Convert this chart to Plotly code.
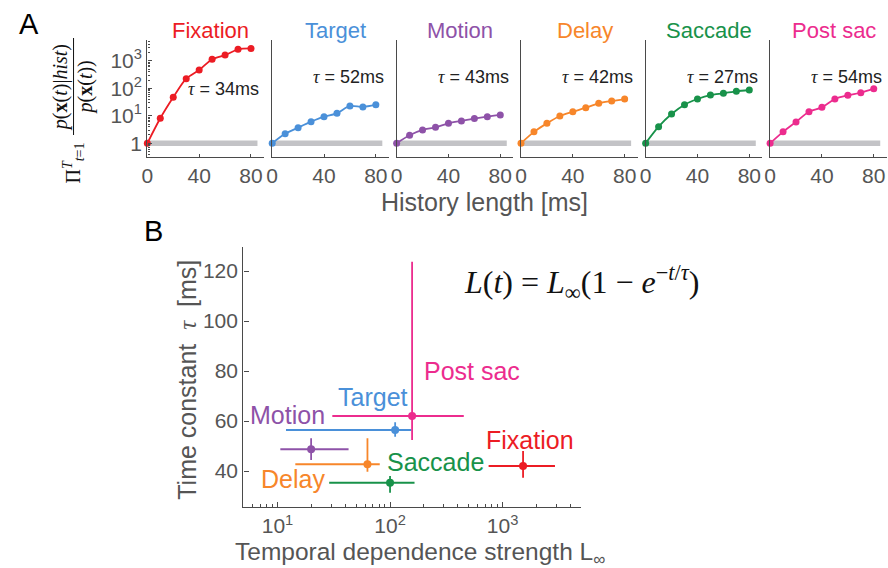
import plotly.graph_objects as go

# ---------------- data ----------------
epochs = ["Fixation", "Target", "Motion", "Delay", "Saccade", "Post sac"]
colors = ["#ec1c24", "#4a90d9", "#8e52a8", "#f7862a", "#18924a", "#ec2c8e"]
tau_text = [34, 52, 43, 42, 27, 54]

history_ms = [0, 10, 20, 30, 40, 50, 60, 70, 80]
ratio_fixation = [1, 8.1, 47, 224, 463, 1150, 1620, 2630, 2840]
ratio_target = [1, 2.2, 3.7, 6.1, 9.3, 12.3, 22.8, 20.9, 25.3]
ratio_motion = [1, 1.95, 3.05, 3.8, 5.3, 6.5, 7.9, 9.3, 10.7]
ratio_delay = [1, 2.6, 5.3, 9.8, 14.1, 19.7, 28.5, 34.5, 40.8]
ratio_saccade = [1, 4.0, 11.6, 25.3, 40.8, 57, 66, 78, 87]
ratio_postsac = [1, 2.6, 6.0, 14.1, 20.3, 40.8, 55.6, 69, 97]
ratios = [ratio_fixation, ratio_target, ratio_motion, ratio_delay, ratio_saccade, ratio_postsac]

baseline_x = [0, 85]
baseline_y = [1, 1]

# panel B
L_inf = [1520, 111, 19.9, 63, 100, 157]
L_lo = [751, 11.9, 10.6, 14.4, 28.8, 30.7]
L_hi = [2920, 155, 42.8, 81, 165, 452]
tau_fit = [42, 56.4, 48.7, 42.7, 35.3, 62]
tau_lo = [37.3, 53.7, 44.4, 39.7, 31.3, 52.4]
tau_hi = [48, 59.5, 53.1, 53.1, 38, 123.7]

x_ticks_A = [0, 40, 80]
y_ticks_A = [1, 10, 100, 1000]
y_ticktext_A = ["1", "10<sup>1</sup>", "10<sup>2</sup>", "10<sup>3</sup>"]
x_ticks_B = [10, 100, 1000]
x_ticktext_B = ["10<sup>1</sup>", "10<sup>2</sup>", "10<sup>3</sup>"]
y_ticks_B = [40, 60, 80, 100, 120]

# ---------------- layout helpers ----------------
W, H = 888, 568
def px(x):
    return x / W
def py(y):
    return 1 - y / H

SANS = "Liberation Sans, Arial, sans-serif"
SERIF = "Liberation Serif, Times New Roman, serif"
AXC = "#4a4a4a"
TXC = "#555555"

fig = go.Figure()
layout = dict(
    width=W, height=H, margin=dict(l=0, r=0, t=0, b=0),
    paper_bgcolor="white", plot_bgcolor="white", showlegend=False,
    font=dict(family=SANS, color=TXC),
)

starts = [142.3, 268, 393.3, 518.5, 644, 769.3]
pw = 117.4
annotations = []
shapes = []

for i, name in enumerate(epochs):
    n = i + 1
    xa = "x" if n == 1 else f"x{n}"
    ya = "y" if n == 1 else f"y{n}"
    xk = "xaxis" if n == 1 else f"xaxis{n}"
    yk = "yaxis" if n == 1 else f"yaxis{n}"
    layout[xk] = dict(
        domain=[px(starts[i]), px(starts[i] + pw)], range=[0, 90], anchor=ya,
        showline=True, linecolor=AXC, linewidth=1.4, showgrid=False, zeroline=False,
        tickvals=x_ticks_A, ticks="inside", ticklen=3, tickcolor=AXC,
        tickfont=dict(size=21, color=TXC),
    )
    ydict = dict(
        domain=[py(156.7), py(40)], type="log", range=[-0.49, 3.76], anchor=xa,
        showline=True, linecolor=AXC, linewidth=1.4, showgrid=False, zeroline=False,
    )
    if n == 1:
        ydict.update(tickvals=y_ticks_A, ticktext=y_ticktext_A, ticks="inside", ticklen=4,
                     tickcolor=AXC, tickfont=dict(size=21, color=TXC),
                     minor=dict(ticks="inside", ticklen=2, tickcolor=AXC, dtick="D1", showgrid=False))
    else:
        ydict.update(showticklabels=False, ticks="")
    layout[yk] = ydict

    fig.add_trace(go.Scatter(x=baseline_x, y=baseline_y, mode="lines",
                             line=dict(color="#c3c3c6", width=5.5),
                             xaxis=xa, yaxis=ya, hoverinfo="skip"))
    fig.add_trace(go.Scatter(x=history_ms, y=ratios[i], mode="lines+markers",
                             line=dict(color=colors[i], width=1.8, shape="spline", smoothing=0.8),
                             marker=dict(color=colors[i], size=7),
                             xaxis=xa, yaxis=ya, cliponaxis=False))
    # title
    annotations.append(dict(x=px(starts[i] + 64), y=py(30), xref="paper", yref="paper",
                            text=name, showarrow=False, xanchor="center", yanchor="middle",
                            font=dict(size=22, color=colors[i], family=SANS)))
    # tau text
    tx = 257 if n == 1 else starts[i] + 115
    ty = 89 if n == 1 else 77
    annotations.append(dict(x=px(tx), y=py(ty), xref="paper", yref="paper",
                            text=f"<span style='font-family:Liberation Serif;font-style:italic'>τ</span> = {tau_text[i]}ms",
                            showarrow=False, xanchor="right", yanchor="middle",
                            font=dict(size=18, color="#222222", family=SANS)))

# panel B axes
layout["xaxis7"] = dict(
    domain=[px(239), px(579.3)], type="log", range=[0.697, 3.70], anchor="y7",
    showline=True, linecolor=AXC, linewidth=1.4, showgrid=False, zeroline=False,
    tickvals=x_ticks_B, ticktext=x_ticktext_B, ticks="inside", ticklen=5, tickcolor=AXC,
    tickfont=dict(size=21, color=TXC),
    minor=dict(ticks="inside", ticklen=3, tickcolor=AXC, dtick="D1", showgrid=False),
)
layout["yaxis7"] = dict(
    domain=[py(507), py(247)], range=[25.6, 129.6], anchor="x7",
    showline=True, linecolor=AXC, linewidth=1.4, showgrid=False, zeroline=False,
    tickvals=y_ticks_B, ticks="inside", ticklen=5, tickcolor=AXC,
    tickfont=dict(size=21, color=TXC),
)

for i, name in enumerate(epochs):
    fig.add_trace(go.Scatter(
        x=[L_inf[i]], y=[tau_fit[i]], mode="markers",
        marker=dict(color=colors[i], size=8),
        error_x=dict(type="data", symmetric=False, array=[L_hi[i] - L_inf[i]],
                     arrayminus=[L_inf[i] - L_lo[i]], color=colors[i], thickness=1.8, width=0),
        error_y=dict(type="data", symmetric=False, array=[tau_hi[i] - tau_fit[i]],
                     arrayminus=[tau_fit[i] - tau_lo[i]], color=colors[i], thickness=1.8, width=0),
        xaxis="x7", yaxis="y7", cliponaxis=False))

label_pos_B = {"Post sac": (469, 371), "Target": (369, 397), "Motion": (283.5, 415),
               "Fixation": (527.5, 440), "Saccade": (432.5, 462), "Delay": (289, 479)}
for i, name in enumerate(epochs):
    lx, ly = label_pos_B[name]
    annotations.append(dict(x=px(lx), y=py(ly), xref="paper", yref="paper", text=name,
                            showarrow=False, xanchor="center", yanchor="middle",
                            font=dict(size=25, color=colors[i], family=SANS)))

# axis titles and other text
annotations += [
    dict(x=px(481.7), y=py(202), text="History length [ms]", font=dict(size=25, color=TXC)),
    dict(x=px(417), y=py(553.5), text="Temporal dependence strength L<sub>∞</sub>",
         font=dict(size=24.5, color=TXC)),
    dict(x=px(182), y=py(380), text="Time constant  <span style='font-family:Liberation Serif;font-style:italic'>τ</span>  [ms]",
         textangle=-90, font=dict(size=25, color=TXC)),
    dict(x=px(23), y=py(24), text="A", font=dict(size=29, color="black")),
    dict(x=px(149), y=py(231), text="B", font=dict(size=29, color="black")),
    dict(x=px(580), y=py(282),
         text="<i>L</i>(<i>t</i>) = <i>L</i><sub>∞</sub>(1 − <i>e</i><sup>−<i>t</i>/<i>τ</i></sup>)",
         font=dict(size=32, color="#111111", family=SERIF)),
    dict(x=px(55), y=py(87.5), text="<i>p</i>(<b>x</b>(<i>t</i>)|<i>hist</i>)", textangle=-90,
         font=dict(size=20, color="#111111", family=SERIF)),
    dict(x=px(81), y=py(87), text="<i>p</i>(<b>x</b>(<i>t</i>))", textangle=-90,
         font=dict(size=20, color="#111111", family=SERIF)),
    dict(x=px(68), y=py(163), text="Π<sup><i>T</i></sup><sub><i>t</i>=1</sub>", textangle=-90,
         font=dict(size=20, color="#111111", family=SERIF)),
]
for a in annotations:
    a.setdefault("xref", "paper")
    a.setdefault("yref", "paper")
    a.setdefault("showarrow", False)
    a.setdefault("xanchor", "center")
    a.setdefault("yanchor", "middle")

shapes.append(dict(type="line", xref="paper", yref="paper", x0=px(68), x1=px(68),
                   y0=py(38), y1=py(135), line=dict(color="#111111", width=1)))

layout["annotations"] = annotations
layout["shapes"] = shapes
fig.update_layout(**layout)
fig.write_html("out.html", config={"displayModeBar": False},
               post_script="document.body.style.margin='0';document.body.style.overflow='hidden';")
